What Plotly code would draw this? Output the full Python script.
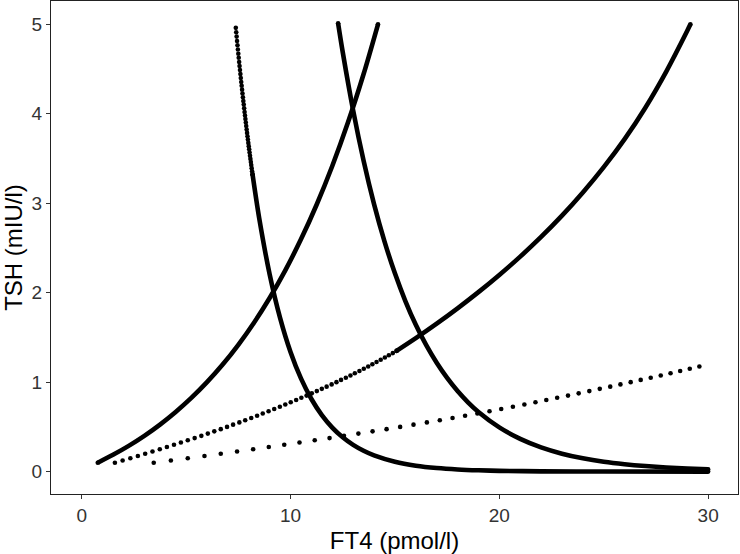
import plotly.graph_objects as go

# ---- data (FT4 in pmol/l, TSH in mIU/l) ----
# sparse dotted curve
c4_ft4 = [3.45, 4.27, 5.08, 5.88, 6.66, 7.44, 8.21, 8.96, 9.70, 10.43, 11.16, 11.87, 12.56, 13.25,
          13.93, 14.60, 15.25, 15.89, 16.53, 17.15, 17.76, 18.36, 18.95, 19.53, 20.09, 20.65, 21.20,
          21.73, 22.25, 22.77, 23.29, 23.80, 24.31, 24.81, 25.31, 25.80, 26.29, 26.77, 27.25, 27.73,
          28.20, 28.66, 29.12, 29.58]
c4_tsh = [0.1, 0.125, 0.15, 0.175, 0.2, 0.225, 0.25, 0.275, 0.3, 0.325, 0.35, 0.375, 0.4, 0.425,
          0.45, 0.475, 0.5, 0.525, 0.55, 0.575, 0.6, 0.625, 0.65, 0.675, 0.7, 0.725, 0.75, 0.775,
          0.8, 0.825, 0.85, 0.875, 0.9, 0.925, 0.95, 0.975, 1.0, 1.025, 1.05, 1.075, 1.1, 1.125,
          1.15, 1.175]

# rising curve to (29.15, 5): dotted lower part
cb_dot_ft4 = [1.59, 1.96, 2.33, 2.69, 3.04, 3.39, 3.74, 4.08, 4.42, 4.75, 5.08, 5.41, 5.73, 6.04,
              6.35, 6.66, 6.96, 7.25, 7.55, 7.83, 8.12, 8.40, 8.67, 8.95, 9.22, 9.49, 9.75, 10.01,
              10.27, 10.52, 10.77, 11.02, 11.26, 11.50, 11.73, 11.97, 12.20, 12.42, 12.65, 12.87,
              13.08, 13.30, 13.51, 13.72, 13.92, 14.12, 14.32, 14.52, 14.71, 14.90, 15.08]
cb_dot_tsh = [0.1, 0.125, 0.15, 0.175, 0.2, 0.225, 0.25, 0.275, 0.3, 0.325, 0.35, 0.375, 0.4,
              0.425, 0.45, 0.475, 0.5, 0.525, 0.55, 0.575, 0.6, 0.625, 0.65, 0.675, 0.7, 0.725,
              0.75, 0.775, 0.8, 0.825, 0.85, 0.875, 0.9, 0.925, 0.95, 0.975, 1.0, 1.025, 1.05,
              1.075, 1.1, 1.125, 1.15, 1.175, 1.2, 1.225, 1.25, 1.275, 1.3, 1.325, 1.35]
# rising curve to (29.15, 5): dense upper part
cb_ft4 = [15.08, 16.0, 17.0, 18.0, 19.0, 20.0, 21.0, 22.0, 23.0, 24.0, 25.0, 26.0, 27.0, 28.0,
          29.0, 29.15]
cb_tsh = [1.35, 1.492, 1.654, 1.825, 2.006, 2.198, 2.403, 2.623, 2.861, 3.120, 3.403, 3.716,
          4.070, 4.474, 4.927, 4.999]

# steep rising curve to (14.19, 5)
ca_ft4 = [0.77, 1.5, 2.25, 3.0, 3.75, 4.5, 5.25, 6.0, 6.75, 7.5, 8.25, 9.0, 9.75, 10.5, 11.25,
          12.0, 12.75, 13.5, 14.19]
ca_tsh = [0.100, 0.188, 0.288, 0.400, 0.526, 0.667, 0.824, 1.000, 1.197, 1.418, 1.665, 1.941,
          2.250, 2.596, 2.983, 3.416, 3.901, 4.444, 5.000]

# falling curve from (7.38, 4.96): dotted top part
c5_dot_ft4 = [7.38, 7.40, 7.42, 7.44, 7.46, 7.48, 7.50, 7.52, 7.54, 7.56, 7.58, 7.60, 7.62, 7.64,
              7.66, 7.68, 7.70, 7.72, 7.74, 7.76, 7.78, 7.80, 7.82, 7.84, 7.86, 7.88, 7.90, 7.92,
              7.94, 7.96, 7.98, 8.00, 8.02, 8.04, 8.06, 8.08, 8.10, 8.12, 8.14, 8.16, 8.18]
c5_dot_tsh = [4.960, 4.911, 4.862, 4.813, 4.766, 4.718, 4.671, 4.625, 4.579, 4.533, 4.488, 4.443,
              4.399, 4.355, 4.312, 4.269, 4.227, 4.185, 4.143, 4.102, 4.061, 4.020, 3.980, 3.941,
              3.902, 3.863, 3.824, 3.786, 3.749, 3.711, 3.674, 3.638, 3.602, 3.566, 3.530, 3.495,
              3.460, 3.426, 3.392, 3.358, 3.325]
# falling curve: dense lower part
c5_ft4 = [8.18, 8.5, 9.0, 9.5, 10.0, 10.5, 11.0, 11.5, 12.0, 12.5, 13.0, 13.5, 14.0, 15.0, 16.0,
          17.0, 18.0, 19.0, 20.0, 22.0, 25.0, 30.0]
c5_tsh = [3.325, 2.833, 2.207, 1.719, 1.338, 1.042, 0.812, 0.632, 0.4925, 0.3835, 0.2986, 0.2326,
          0.181, 0.1099, 0.0666, 0.0404, 0.0245, 0.0149, 0.009, 0.0033, 0.0007, 0.0001]

# falling curve from (12.28, 5.01)
c6_ft4 = [12.28, 12.5, 13.0, 13.5, 14.0, 14.5, 15.0, 15.5, 16.0, 16.5, 17.0, 17.5, 18.0, 18.5,
          19.0, 20.0, 21.0, 22.0, 23.0, 24.0, 25.0, 26.0, 27.0, 28.0, 29.0, 30.0]
c6_tsh = [5.01, 4.690, 4.037, 3.474, 2.990, 2.574, 2.216, 1.907, 1.641, 1.413, 1.216, 1.047, 0.901,
          0.775, 0.667, 0.4944, 0.3663, 0.2713, 0.2010, 0.1489, 0.1103, 0.0830, 0.0625, 0.0465,
          0.0345, 0.0250]

x_ticks = [0, 10, 20, 30]
y_ticks = [0, 1, 2, 3, 4, 5]

# ---- figure ----
DOT = 4.6
LW = 4.6
FONT = "Liberation Sans, Arial, Helvetica, sans-serif"
fig = go.Figure()


def dots(x, y):
    fig.add_trace(go.Scatter(x=x, y=y, mode="markers",
                             marker=dict(color="black", size=DOT, line=dict(width=0)),
                             hoverinfo="skip", showlegend=False))


def solid(x, y):
    fig.add_trace(go.Scatter(x=x, y=y, mode="lines",
                             line=dict(color="black", width=LW, shape="spline", smoothing=0.8),
                             hoverinfo="skip", showlegend=False))
    dots([x[0], x[-1]], [y[0], y[-1]])


dots(c4_ft4, c4_tsh)
dots(cb_dot_ft4, cb_dot_tsh)
solid(cb_ft4, cb_tsh)
solid(ca_ft4, ca_tsh)
dots(c5_dot_ft4, c5_dot_tsh)
solid(c5_ft4, c5_tsh)
solid(c6_ft4, c6_tsh)

axis_common = dict(showgrid=False, zeroline=False, showline=True, mirror=True,
                   linecolor="#222222", linewidth=1.1, ticks="outside", ticklen=4,
                   tickwidth=1.1, tickcolor="#333333",
                   tickfont=dict(family=FONT, size=19, color="#333333"))

fig.update_layout(
    width=740, height=554,
    margin=dict(l=51, r=2, t=1, b=60),
    paper_bgcolor="white", plot_bgcolor="white",
    xaxis=dict(range=[-1.47, 31.43], tickvals=x_ticks, ticktext=[str(v) for v in x_ticks],
               title=dict(text="FT4 (pmol/l)", standoff=8,
                          font=dict(family=FONT, size=24, color="black")),
               **axis_common),
    yaxis=dict(range=[-0.25, 5.26], tickvals=y_ticks, ticktext=[str(v) for v in y_ticks],
               title=dict(text="TSH (mIU/l)", standoff=4,
                          font=dict(family=FONT, size=24, color="black")),
               **axis_common),
)

fig.write_html("out.html", config={"displayModeBar": False},
               post_script="document.body.style.margin='0px';")
